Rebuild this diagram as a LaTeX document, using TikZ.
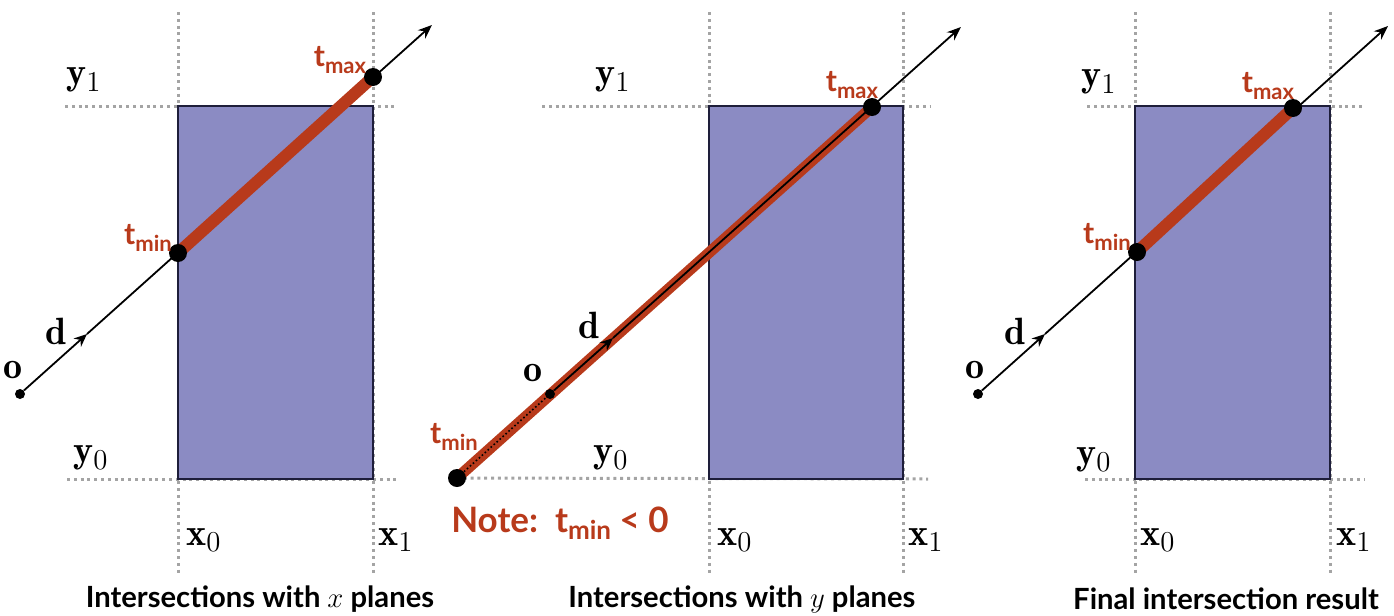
\documentclass[tikz,border=0pt]{standalone}
\usepackage{amsmath,amssymb}
\usepackage{fontspec}
\setsansfont{Lato}
\usepackage{xcolor}
\usetikzlibrary{arrows.meta, backgrounds}

\definecolor{slabfill}{HTML}{8B8BC3}
\definecolor{slabline}{HTML}{1E1E3A}
\definecolor{segred}{HTML}{B83A1B}
\definecolor{planegray}{HTML}{A4A4A4}

\newcommand{\tsub}[1]{\raisebox{-0.4ex}{\fontsize{11}{13}\selectfont #1}}

\begin{document}
\begin{tikzpicture}[x=0.5pt, y=-0.5pt, >={Stealth[length=7pt, width=5.5pt]}]
  \tikzstyle{hit} = [circle, fill=black, inner sep=0pt, minimum size=9pt]
  \tikzstyle{orig} = [circle, fill=black, inner sep=0pt, minimum size=5pt]
  \tikzstyle{plane} = [draw=planegray, line width=1.5pt, dash pattern=on 1.5pt off 1.9pt]
  \tikzstyle{slab} = [fill=slabfill, draw=slabline, line width=1.2pt]
  \tikzstyle{ray} = [draw=black, line width=0.9pt]
  \tikzstyle{dirtip} = [-{Stealth[length=6.5pt, width=5.5pt]}]
  \tikzstyle{seg} = [draw=segred, line width=6pt]
  \tikzstyle{tlabel} = [text=segred, font=\sffamily\bfseries\fontsize{15}{17}\selectfont, inner sep=0pt]
  \tikzstyle{vlabel} = [font=\fontsize{19}{21}\selectfont, inner sep=0pt]
  \tikzstyle{caption} = [font=\sffamily\bfseries\fontsize{14.6}{17}\selectfont, inner sep=0pt]

  \useasboundingbox (0,0) rectangle (1394,616);

  % x planes
  \node[orig] (OriginX) at (20,394) {};
  \node[hit] (TminX) at (178,253) {};
  \node[hit] (TmaxX) at (373,77) {};
  \coordinate (DirX) at (87,334);
  \coordinate (EndX) at (432,25);

  % y planes
  \node[hit] (TminY) at (457,478) {};
  \node[orig] (OriginY) at (550,394) {};
  \coordinate (DirY) at (613,338);
  \node[hit] (TmaxY) at (872,107) {};
  \coordinate (EndY) at (961,27);

  % final result
  \node[orig] (OriginF) at (978,394) {};
  \node[hit] (TminF) at (1137,252) {};
  \node[hit] (TmaxF) at (1293,108) {};
  \coordinate (DirF) at (1045,334);
  \coordinate (EndF) at (1388,26);

  \begin{scope}[on background layer]
    \draw[plane] (178,12) -- (178,575);
    \draw[plane] (373,12) -- (373,575);
    \draw[plane] (65,106) -- (397,106);
    \draw[plane] (67,479) -- (397,479);
    \draw[slab] (178,106) rectangle (373,479);
    \draw[ray, dirtip] (OriginX) -- (DirX);
    \draw[ray, ->] (DirX) -- (EndX);
    \draw[seg] (TminX.center) -- (TmaxX.center);

    \draw[plane] (709,12) -- (709,575);
    \draw[plane] (903,12) -- (903,575);
    \draw[plane] (542,106) -- (930,106);
    \draw[plane] (TminY.center) -- (928,479);
    \draw[slab] (709,106) rectangle (903,479);
    \draw[seg, line width=5.5pt] (TminY.center) -- (TmaxY.center);
    \draw[black, line width=0.8pt, dash pattern=on 0.8pt off 1.2pt] (TminY) -- (OriginY);
    \draw[ray, dirtip] (OriginY) -- (DirY);
    \draw[ray, ->] (DirY) -- (EndY);

    \draw[plane] (1135,12) -- (1135,575);
    \draw[plane] (1330,12) -- (1330,575);
    \draw[plane] (1087,106) -- (1365,106);
    \draw[plane] (1085,479) -- (1365,479);
    \draw[slab] (1135,106) rectangle (1330,479);
    \draw[ray, dirtip] (OriginF) -- (DirF);
    \draw[ray, ->] (DirF) -- (EndF);
    \draw[seg] (TminF.center) -- (TmaxF.center);
  \end{scope}

  % labels
  \node[vlabel] (YoneX) at (84,80) {$\mathbf{y}_1$};
  \node[vlabel] (YzeroX) at (91,458) {$\mathbf{y}_0$};
  \node[vlabel] (XzeroX) at (204,540) {$\mathbf{x}_0$};
  \node[vlabel] (XoneX) at (396,540) {$\mathbf{x}_1$};
  \node[vlabel] (DlabX) at (56,331) {$\mathbf{d}$};
  \node[vlabel] (OlabX) at (13,370) {$\mathbf{o}$};
  \node[tlabel] (TminLabX) at (148,238) {t\tsub{min}};
  \node[tlabel] (TmaxLabX) at (340,60) {t\tsub{max}};

  \node[vlabel] (YoneY) at (613,80) {$\mathbf{y}_1$};
  \node[vlabel] (YzeroY) at (611,458) {$\mathbf{y}_0$};
  \node[vlabel] (XzeroY) at (735,540) {$\mathbf{x}_0$};
  \node[vlabel] (XoneY) at (926,540) {$\mathbf{x}_1$};
  \node[vlabel] (DlabY) at (589,325) {$\mathbf{d}$};
  \node[vlabel] (OlabY) at (533,373) {$\mathbf{o}$};
  \node[tlabel] (TminLabY) at (454,437) {t\tsub{min}};
  \node[tlabel] (TmaxLabY) at (852,85) {t\tsub{max}};
  \node[tlabel, font=\sffamily\bfseries\fontsize{17.5}{20}\selectfont] (NoteY) at (560,523)
    {Note:\ \ t\raisebox{-0.4ex}{\fontsize{13}{15}\selectfont min} < 0};

  \node[vlabel] (YoneF) at (1099,82) {$\mathbf{y}_1$};
  \node[vlabel] (YzeroF) at (1094,460) {$\mathbf{y}_0$};
  \node[vlabel] (XzeroF) at (1158,540) {$\mathbf{x}_0$};
  \node[vlabel] (XoneF) at (1354,540) {$\mathbf{x}_1$};
  \node[vlabel] (DlabF) at (1015,331) {$\mathbf{d}$};
  \node[vlabel] (OlabF) at (975,370) {$\mathbf{o}$};
  \node[tlabel] (TminLabF) at (1107,237) {t\tsub{min}};
  \node[tlabel] (TmaxLabF) at (1268,86) {t\tsub{max}};

  \node[caption] (CapX) at (260,599) {Intersections with $x$ planes};
  \node[caption] (CapY) at (742,599) {Intersections with $y$ planes};
  \node[caption] (CapF) at (1226,599) {Final intersection result};
\end{tikzpicture}
\end{document}
